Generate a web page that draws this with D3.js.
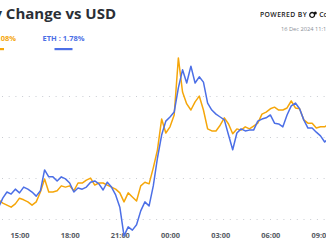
<!DOCTYPE html>
<html><head><meta charset="utf-8">
<script src="https://cdn.jsdelivr.net/npm/d3@7"></script>
<style>html,body{margin:0;padding:0;background:#fff;overflow:hidden}svg{display:block}</style>
</head><body>
<svg id="c" width="326" height="245"></svg>
<script>
// ---- data ----
const title = "Daily Change vs USD";
const seriesNames = ["BTC", "ETH"];
const seriesLabels = ["BTC : 1.08%", "ETH : 1.78%"];
const seriesColors = ["#f5a60a", "#4c6fe6"];
const startTime = Date.UTC(2024, 11, 15, 13, 45); // first sample
const stepMinutes = 15;
const btcValues = [-0.52,-0.60,-0.65,-0.70,-0.62,-0.48,-0.52,-0.57,-0.65,-0.57,
  -0.33,-0.01,-0.33,-0.33,-0.30,-0.18,-0.21,-0.18,-0.30,-0.11,
  -0.11,-0.04,0.01,-0.16,-0.11,-0.11,-0.16,-0.21,-0.26,-0.35,
  -0.57,-0.35,-0.45,-0.55,-0.18,-0.09,-0.13,0.26,0.70,1.45,
  1.11,1.26,1.55,2.94,2.11,1.82,1.67,1.87,2.01,1.67,
  1.21,1.16,1.16,1.30,1.48,1.33,1.09,1.21,1.18,1.26,
  1.21,1.28,1.35,1.57,1.62,1.70,1.74,1.67,1.67,1.72,
  1.89,1.72,1.70,1.43,1.35,1.35,1.23,1.26,1.26,1.33];
const ethValues = [-0.70,-0.48,-0.33,-0.38,-0.26,-0.35,-0.21,-0.26,-0.33,-0.43,
  -0.30,0.21,0.04,0.04,-0.06,0.04,-0.01,-0.11,-0.33,-0.23,
  -0.26,-0.21,-0.09,-0.06,-0.13,-0.28,-0.09,-0.21,-0.40,-0.70,
  -1.40,-1.18,-1.26,-1.13,-0.79,-0.57,-0.67,-0.18,0.50,1.06,
  1.40,1.50,1.62,2.21,2.65,2.33,2.74,2.33,2.48,2.35,
  1.84,1.67,1.57,1.50,1.43,1.06,0.70,1.11,1.21,1.16,
  1.18,1.18,1.40,1.45,1.48,1.55,1.35,1.33,1.26,1.55,
  1.77,1.84,1.70,1.43,1.23,1.23,1.13,1.04,0.89,0.99];
const yTicks = [-1, 0, 1, 2];
const xTicks = ["2024-12-15T15:00Z","2024-12-15T18:00Z","2024-12-15T21:00Z","2024-12-16T00:00Z","2024-12-16T03:00Z","2024-12-16T06:00Z","2024-12-16T09:00Z"];
const poweredBy = "POWERED BY";
const brand = "CoinDesk";
const stamp = "16 Dec 2024 11:15 UTC";

// ---- chart ----
const svg = d3.select("#c");
const font = "'Open Sans', 'Noto Sans', sans-serif";
const times = btcValues.map((_, i) => new Date(startTime + i * stepMinutes * 60000));
const tickDates = xTicks.map(s => new Date(s));

const x = d3.scaleUtc().domain([tickDates[0], tickDates[tickDates.length - 1]]).range([19.5, 320.5]);
const y = d3.scaleLinear().domain([-1, 2]).range([219.5, 96.5]);

// title
svg.append("text").attr("x", 116).attr("y", 19).attr("text-anchor", "end")
  .attr("font-family", font).attr("font-weight", 700).attr("font-size", 15)
  .attr("fill", "#2b2f36").text(title);

// legend
const legendCenters = [-5, 63.5];
seriesLabels.forEach((lab, i) => {
  svg.append("text").attr("x", legendCenters[i]).attr("y", 41).attr("text-anchor", "middle")
    .attr("font-family", font).attr("font-weight", 700).attr("font-size", 7.5)
    .attr("fill", seriesColors[i]).text(lab);
  svg.append("rect").attr("x", legendCenters[i] - 9).attr("y", 48).attr("width", 18).attr("height", 2.2)
    .attr("fill", seriesColors[i]);
});

// powered by
const pb = svg.append("text").attr("x", 260).attr("y", 17.3).attr("font-family", font).attr("font-weight", 600)
  .attr("font-size", 6.8).attr("letter-spacing", 0.4).attr("fill", "#222").text(poweredBy);
const pbEnd = 260 + pb.node().getComputedTextLength();
const logo = svg.append("g").attr("transform", `translate(${pbEnd + 5},14.9)`);
logo.append("circle").attr("r", 2.4).attr("fill", "none").attr("stroke", "#111").attr("stroke-width", 1.3);
logo.append("circle").attr("cx", 3.2).attr("cy", -1.8).attr("r", 1.5).attr("fill", "#111");
svg.append("text").attr("x", pbEnd + 12).attr("y", 17.3).attr("font-family", font).attr("font-weight", 600)
  .attr("font-size", 6.8).attr("fill", "#222").text(brand);
svg.append("text").attr("x", 281).attr("y", 31).attr("font-family", font)
  .attr("font-size", 5.7).attr("fill", "#8a8f98").text(stamp);

// grid
svg.append("g").selectAll("line").data(yTicks).join("line")
  .attr("x1", 2).attr("x2", 326).attr("y1", d => y(d)).attr("y2", d => y(d))
  .attr("stroke", "#c9ccd2").attr("stroke-width", 1).attr("stroke-dasharray", "1 5.7");

// x axis
const xAxis = d3.axisBottom(x).tickValues(tickDates).tickFormat(d3.utcFormat("%H:%M")).tickSize(0).tickPadding(0);
const gx = svg.append("g").attr("transform", "translate(0,233)").call(xAxis);
gx.select(".domain").remove();
gx.selectAll("text").attr("font-family", font).attr("font-weight", 700).attr("font-size", 7.4).attr("fill", "#555a63");

// lines
const line = d3.line().x((d, i) => x(times[i])).y(d => y(d));
[btcValues, ethValues].forEach((vals, i) => {
  svg.append("path").datum(vals).attr("d", line).attr("fill", "none")
    .attr("stroke", seriesColors[i]).attr("stroke-width", 1.5).attr("stroke-linejoin", "round");
});
</script>
</body></html>
